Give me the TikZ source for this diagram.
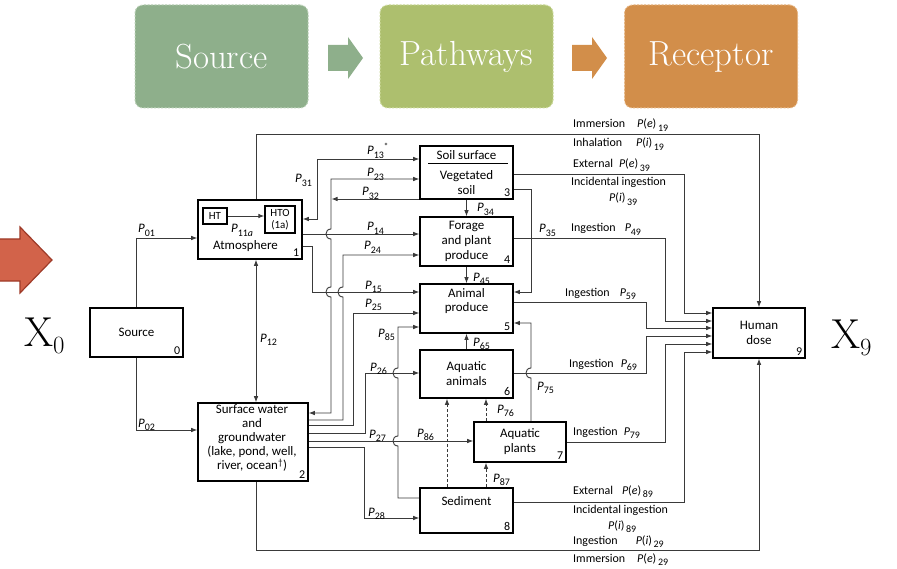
\documentclass[tikz,border=0pt]{standalone}
\usepackage{fontspec}
\newfontfamily\diagfont{Carlito}
\usetikzlibrary{arrows.meta}
\definecolor{linec}{HTML}{3A3A3A}
\definecolor{srcg}{HTML}{8EAF8B}
\definecolor{srcgl}{HTML}{B9D0B6}
\definecolor{pathg}{HTML}{ADBF6E}
\definecolor{pathgl}{HTML}{CCDA9C}
\definecolor{recg}{HTML}{D28E4A}
\definecolor{recgl}{HTML}{E6B684}
\definecolor{redarr}{HTML}{D2634A}
\definecolor{redarrd}{HTML}{9E3A28}
\newcommand\boxfont{\diagfont\fontsize{13}{15}\selectfont}
\newcommand\Psub[1]{\textit{P}\raisebox{-0.55ex}{\fontsize{10}{10}\selectfont #1}}
\newcommand\Pfn[2]{\textit{P}(\textit{#1})\raisebox{-0.55ex}{\fontsize{10}{10}\selectfont\,#2}}
\newcommand\hop[2]{-- (#1,#2+5) .. controls (#1-6.7,#2+5) and (#1-6.7,#2-5) .. (#1,#2-5)}
\begin{document}
\begin{tikzpicture}[x=1bp,y=-1bp,
  box/.style={draw=black, line width=1.6bp, fill=white, inner sep=0pt, font=\boxfont, align=center},
  sbox/.style={draw=black, line width=1.4bp, fill=white, inner sep=0pt, font=\diagfont\fontsize{11}{12}\selectfont, align=center},
  num/.style={font=\diagfont\fontsize{12}{12}\selectfont, inner sep=3.5bp, anchor=south east},
  lab/.style={font=\diagfont\fontsize{13}{13}\selectfont, inner sep=0pt, anchor=base west},
  rlab/.style={font=\diagfont\fontsize{12}{13}\selectfont, inner sep=0pt, anchor=base west},
  arr/.style={draw=linec, line width=0.9bp, -{Latex[length=6bp,width=4.6bp]}},
  arrb/.style={draw=linec, line width=0.9bp, {Latex[length=6bp,width=4.6bp]}-{Latex[length=6bp,width=4.6bp]}},
  darr/.style={arr, dash pattern=on 3bp off 2bp},
  bannerbox/.style={rounded corners=8bp, line width=1bp, dash pattern=on 2bp off 1.5bp, text=white, font=\fontsize{35}{35}\selectfont, minimum width=173bp, minimum height=103bp, inner sep=0pt}]
\useasboundingbox (0,0) rectangle (897,569);

% ---------- banner ----------
\node[bannerbox, fill=srcg, draw=srcgl] (bs) at (221.5,56.5) {Source};
\node[bannerbox, fill=pathg, draw=pathgl] (bp) at (466.5,56.5) {Pathways};
\node[bannerbox, fill=recg, draw=recgl] (br) at (711,56.5) {Receptor};
\fill[srcg] (328,45) -- (348,45) -- (348,37) -- (363,58) -- (348,79) -- (348,71) -- (328,71) -- cycle;
\fill[recg] (572,45) -- (592,45) -- (592,37) -- (607,58) -- (592,79) -- (592,71) -- (572,71) -- cycle;

% ---------- big arrow and X labels ----------
\filldraw[fill=redarr, draw=redarrd, line width=1.2bp] (-5,239) -- (20,239) -- (20,227) -- (52,260) -- (20,293) -- (20,281) -- (-5,281) -- cycle;
\node[anchor=base west, inner sep=0pt, font=\fontsize{42}{42}\selectfont] (x0) at (24,346) {X$_0$};
\node[anchor=base west, inner sep=0pt, font=\fontsize{42}{42}\selectfont] (x9) at (831,348) {X$_9$};

% ---------- boxes ----------
\node[box, minimum width=93bp, minimum height=49bp] (b0) at (136.5,332.5) {Source};
\node[box, minimum width=104bp, minimum height=59bp] (b1) at (250,229.5) {};
\node[box, minimum width=110bp, minimum height=78bp] (b2) at (253,442) {};
\node[box, minimum width=93bp, minimum height=53bp] (b3) at (466.5,172.5) {};
\node[box, minimum width=93bp, minimum height=49bp] (b4) at (466.5,241.5) {Forage\\and plant\\produce\hspace{10bp}};
\node[box, minimum width=93bp, minimum height=49bp] (b5) at (466.5,308.5) {Animal\\produce\\[2bp]};
\node[box, minimum width=93bp, minimum height=48bp] (b6) at (466.5,374) {Aquatic\\animals};
\node[box, minimum width=92bp, minimum height=40bp] (b7) at (520,442) {Aquatic\\plants\hspace{8bp}};
\node[box, minimum width=93bp, minimum height=45bp] (b8) at (466.5,510.5) {Sediment\hspace{8bp}\\[4bp]};
\node[box, minimum width=92bp, minimum height=50bp] (b9) at (759,333) {Human\\dose};

\node[num] (n0) at (b0.south east) {0};
\node[num] (n1) at (b1.south east) {1};
\node[num] (n2) at (b2.south east) {2};
\node[num] (n3) at (b3.south east) {3};
\node[num] (n4) at (b4.south east) {4};
\node[num] (n5) at (b5.south east) {5};
\node[num] (n6) at (b6.south east) {6};
\node[num] (n7) at (b7.south east) {7};
\node[num] (n8) at (b8.south east) {8};
\node[num] (n9) at (b9.south east) {9};

% contents of atmosphere box
\node[sbox, minimum width=24bp, minimum height=16bp] (ht) at (215,216) {HT};
\node[sbox, minimum width=30bp, minimum height=27bp] (hto) at (280,219.5) {HTO\\(1a)};
\draw[arr] (ht.east) -- (hto.west |- ht.east);
\node[lab] (p11) at (231,233) {\textit{P}\raisebox{-0.55ex}{\fontsize{10}{10}\selectfont 11\textit{a}}};
\node[anchor=base, inner sep=0pt, font=\boxfont] (t1) at (245.5,250) {Atmosphere};

% contents of surface water box
\node[inner sep=0pt, align=center, font=\diagfont\fontsize{13}{14}\selectfont] (t2) at (252,438) {Surface water\\and\\groundwater\\(lake, pond, well,\\river, ocean\textsuperscript{\dag})};

% contents of soil box
\node[anchor=base, inner sep=0pt, font=\boxfont] (t3a) at (466.5,160) {Soil surface};
\draw[line width=1bp] (b3.west |- 0,164) ++(9,0) -- ([xshift=-6bp]b3.east |- 0,164);
\node[anchor=base, inner sep=0pt, font=\boxfont] (t3b) at (466.5,180) {Vegetated};
\node[anchor=base, inner sep=0pt, font=\boxfont] (t3c) at (466.5,195) {soil};

% ---------- connectors ----------
\draw[arr] (b0.north) |- (b1.west |- 0,238);
\draw[arr] (b0.south) |- (b2.west |- 0,430);
\draw[arrb] (b1.south -| 256,0) -- (b2.north -| 256,0);
\draw[arr] (b1.north -| 256,0) |- (b9.north |- 0,134) -- (b9.north);
\draw[arrb] (b1.east |- 0,219) -| (317,159) -- (b3.west |- 0,159);
\draw[arrb] (b2.east |- 0,413) -- (331,413) \hop{331}{292} \hop{331}{234} -- (331,179) -- (b3.west |- 0,179);
\draw[arr] (b3.west |- 0,199) -- (331.5,199);
\draw[arr] (b1.east |- 0,234) -- (b4.west |- 0,234);
\draw[arr] (b2.east |- 0,420) -- (343,420) \hop{343}{292} -- (343,255) -- (b4.west |- 0,255);
\draw[arr] (b1.east |- 0,246) -| (312,292) -- (b5.west |- 0,292);
\draw[arr] (b2.east |- 0,425) -| (353,313) -- (b5.west |- 0,313);
\draw[arr] (b2.east |- 0,433) -| (365,373) -- (b6.west |- 0,373);
\draw[arr] (b2.east |- 0,441) -- (b7.west |- 0,441);
\draw[arr] (b2.east |- 0,447) -| (364,518) -- (b8.west |- 0,518);
\draw[arr] (b8.west |- 0,498) -- (398,498) \hop{398}{441} \hop{398}{373} -- (398,327) -- (b5.west |- 0,327);
\draw[darr] (b8.north -| 447,0) -- (b6.south -| 447,0);
\draw[darr] (b8.north -| 486,0) -- (b7.south -| 486,0);
\draw[darr] (b7.north -| 486,0) -- (b6.south -| 486,0);
\draw[arr] (b3.south) -- (b4.north);
\draw[arr] (b4.south) -- (b5.north);
\draw[arr] (b6.north) -- (b5.south);
\draw[arr] (b7.north -| 531,0) \hop{531}{373} -- (531,323) -- (b5.east |- 0,323);
\draw[arr] (b3.east |- 0,189) -| (531,292) -- (b5.east |- 0,292);
\draw[arr] (b3.east |- 0,174) -| (684,313) -- (b9.west |- 0,313);
\draw[arr] (b4.east |- 0,238) -| (665,321) -- (b9.west |- 0,321);
\draw[arr] (b5.east |- 0,302) -| (646,328) -- (b9.west |- 0,328);
\draw[arr] (b6.east |- 0,373) -| (646,336) -- (b9.west |- 0,336);
\draw[arr] (b7.east |- 0,442) -| (665,344) -- (b9.west |- 0,344);
\draw[arr] (b8.east |- 0,502) -| (684,352) -- (b9.west |- 0,352);
\draw[arr] (b2.south -| 256,0) -- (256,550) -| (b9.south);

% ---------- P labels ----------
\node[lab] (l01) at (138,233) {\Psub{01}};
\node[lab] (l02) at (138,427) {\Psub{02}};
\node[lab] (l12) at (260,342) {\Psub{12}};
\node[lab] (l31) at (295,183) {\Psub{31}};
\node[lab] (l13) at (367,155) {\Psub{13}\raisebox{0.9ex}{\fontsize{9}{9}\selectfont *}};
\node[lab] (l23) at (367,177) {\Psub{23}};
\node[lab] (l32) at (362,196) {\Psub{32}};
\node[lab] (l34) at (477,212) {\Psub{34}};
\node[lab] (l14) at (367,231) {\Psub{14}};
\node[lab] (l24) at (364,250) {\Psub{24}};
\node[lab] (l15) at (365,289) {\Psub{15}};
\node[lab] (l25) at (365,307) {\Psub{25}};
\node[lab] (l45) at (473,281) {\Psub{45}};
\node[lab] (l85) at (378,337) {\Psub{85}};
\node[lab] (l65) at (473,346) {\Psub{65}};
\node[lab] (l26) at (370,371) {\Psub{26}};
\node[lab] (l75) at (537,390) {\Psub{75}};
\node[lab] (l76) at (497,413) {\Psub{76}};
\node[lab] (l27) at (369,438) {\Psub{27}};
\node[lab] (l86) at (417,437) {\Psub{86}};
\node[lab] (l87) at (493,482) {\Psub{87}};
\node[lab] (l28) at (368,516) {\Psub{28}};
\node[lab] (l35) at (539,233) {\Psub{35}};

% ---------- pathway labels on the right ----------
\node[rlab] (r19a) at (573,128) {Immersion\hspace{12bp}\Pfn{e}{19}};
\node[rlab] (r19b) at (573,147) {Inhalation\hspace{14bp}\Pfn{i}{19}};
\node[rlab] (r39a) at (573,168) {External\hspace{6bp}\Pfn{e}{39}};
\node[rlab] (r39b) at (571,186) {Incidental ingestion};
\node[rlab] (r39c) at (609,202) {\Pfn{i}{39}};
\node[rlab] (r49) at (571,232) {Ingestion\hspace{9bp}\Psub{49}};
\node[rlab] (r59) at (565,296) {Ingestion\hspace{10bp}\Psub{59}};
\node[rlab] (r69) at (569,367) {Ingestion\hspace{7bp}\Psub{69}};
\node[rlab] (r79) at (573,435) {Ingestion\hspace{6bp}\Psub{79}};
\node[rlab] (r89a) at (573,494) {External\hspace{9bp}\Pfn{e}{89}};
\node[rlab] (r89b) at (573,513) {Incidental ingestion};
\node[rlab] (r89c) at (608,529) {\Pfn{i}{89}};
\node[rlab] (r29a) at (573,544) {Ingestion\hspace{18bp}\Pfn{i}{29}};
\node[rlab] (r29b) at (573,562) {Immersion\hspace{12bp}\Pfn{e}{29}};
\end{tikzpicture}
\end{document}
